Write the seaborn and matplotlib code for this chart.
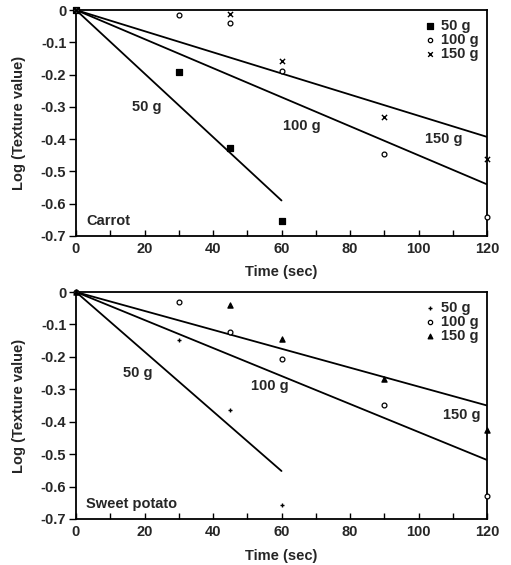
import numpy as np
import pandas as pd
import matplotlib
matplotlib.use("Agg")
import matplotlib.pyplot as plt
import seaborn as sns

sns.set_theme(style="white")
plt.rcParams["font.family"] = ["Liberation Sans", "DejaVu Sans"]

# ---- data -------------------------------------------------------------
loads = ["50 g", "100 g", "150 g"]

# Carrot: measured log(texture) vs. time
carrot_t = {
    "50 g": [0, 30, 45, 60],
    "100 g": [0, 30, 45, 60, 90, 120],
    "150 g": [0, 45, 60, 90, 120],
}
carrot_v = {
    "50 g": [0.0, -0.191, -0.426, -0.655],
    "100 g": [0.0, -0.015, -0.040, -0.188, -0.447, -0.640],
    "150 g": [0.0, -0.012, -0.159, -0.332, -0.462],
}
# fitted first-order lines (through origin): end time and end value
carrot_fit_t = {"50 g": 60, "100 g": 120, "150 g": 120}
carrot_fit_v = {"50 g": -0.590, "100 g": -0.540, "150 g": -0.393}

# Sweet potato
sweet_t = {
    "50 g": [0, 30, 45, 60],
    "100 g": [0, 30, 45, 60, 90, 120],
    "150 g": [0, 45, 60, 90, 120],
}
sweet_v = {
    "50 g": [0.0, -0.148, -0.363, -0.656],
    "100 g": [0.0, -0.032, -0.123, -0.206, -0.349, -0.628],
    "150 g": [0.0, -0.039, -0.144, -0.267, -0.425],
}
sweet_fit_t = {"50 g": 60, "100 g": 120, "150 g": 120}
sweet_fit_v = {"50 g": -0.552, "100 g": -0.518, "150 g": -0.350}

x_ticks = [0, 20, 40, 60, 80, 100, 120]
y_ticks = [0, -0.1, -0.2, -0.3, -0.4, -0.5, -0.6, -0.7]

# ---- figure -----------------------------------------------------------
fig = plt.figure(figsize=(5.11, 5.65), dpi=100)
W, H = 511, 565
ax1 = fig.add_axes([76 / W, 1 - 236 / H, (487 - 76) / W, (236 - 10) / H])
ax2 = fig.add_axes([76 / W, 1 - 519 / H, (487 - 76) / W, (519 - 292) / H])

FS = 10.5


def frame(df_pts, df_fit, ax, markers, sizes, fills, labels, name):
    for ld in loads:
        sub = df_fit[df_fit["load"] == ld]
        sns.lineplot(data=sub, x="t", y="v", ax=ax, color="black",
                     linewidth=1.3, legend=False)
    for ld in loads:
        sub = df_pts[df_pts["load"] == ld]
        if markers[ld] in ("x", "+"):
            kw = dict(color="black", linewidth=1.0)
        elif fills[ld]:
            kw = dict(color="black", edgecolor="black", linewidth=0.9)
        else:
            kw = dict(facecolor="white", edgecolor="black", linewidth=0.9)
        sns.scatterplot(data=sub, x="t", y="v", ax=ax, marker=markers[ld],
                        s=sizes[ld], label=ld, zorder=3, clip_on=False, **kw)
    ax.set_xlim(0, 120)
    ax.set_ylim(-0.7, 0)
    ax.set_xticks(x_ticks)
    ax.set_xticklabels([str(v) for v in x_ticks], fontsize=FS, fontweight="bold")
    ax.set_xticks(np.arange(10, 120, 20), minor=True)
    ax.set_yticks(y_ticks)
    ax.set_yticklabels(["0"] + [f"{v:.1f}" for v in y_ticks[1:]],
                       fontsize=FS, fontweight="bold")
    ax.tick_params(axis="x", which="both", direction="in", length=4,
                   width=1.0, pad=4, bottom=True, color="black")
    ax.tick_params(axis="y", direction="out", length=5, width=1.0, pad=2,
                   left=True, color="black")
    for s in ax.spines.values():
        s.set_visible(True)
        s.set_color("black")
        s.set_linewidth(1.3)
    ax.set_xlabel("Time (sec)", fontsize=FS, fontweight="bold")
    ax.xaxis.set_label_coords(0.5, -0.13)
    ax.set_ylabel("Log (Texture value)", fontsize=FS, fontweight="bold")
    ax.yaxis.set_label_coords(-0.122, 0.5)
    for (tx, ty, txt) in labels:
        ax.text(tx, ty, txt, fontsize=FS, fontweight="bold", ha="center",
                va="center")
    ax.text(3, -0.655, name, fontsize=FS, fontweight="bold", ha="left",
            va="center")
    leg = ax.legend(loc="upper right", frameon=False, fontsize=FS,
                    handletextpad=0.1, labelspacing=0.0, borderaxespad=0.2,
                    markerscale=0.9, handlelength=1.2)
    for t in leg.get_texts():
        t.set_fontweight("bold")


def to_frames(tt, vv, ft, fv):
    pts = pd.concat([pd.DataFrame({"t": tt[ld], "v": vv[ld], "load": ld})
                     for ld in loads], ignore_index=True)
    fit = pd.concat([pd.DataFrame({"t": [0, ft[ld]], "v": [0.0, fv[ld]],
                                   "load": ld}) for ld in loads],
                    ignore_index=True)
    return pts, fit


p1, f1 = to_frames(carrot_t, carrot_v, carrot_fit_t, carrot_fit_v)
frame(p1, f1, ax1,
      markers={"50 g": "s", "100 g": "o", "150 g": "x"},
      sizes={"50 g": 18, "100 g": 12, "150 g": 14},
      fills={"50 g": True, "100 g": False, "150 g": True},
      labels=[(20.6, -0.30, "50 g"), (66, -0.36, "100 g"),
              (107.5, -0.40, "150 g")],
      name="Carrot")

p2, f2 = to_frames(sweet_t, sweet_v, sweet_fit_t, sweet_fit_v)
frame(p2, f2, ax2,
      markers={"50 g": "+", "100 g": "o", "150 g": "^"},
      sizes={"50 g": 12, "100 g": 12, "150 g": 14},
      fills={"50 g": True, "100 g": False, "150 g": True},
      labels=[(18, -0.25, "50 g"), (56.6, -0.29, "100 g"),
              (112.7, -0.38, "150 g")],
      name="Sweet potato")

fig.savefig("out.png", dpi=100)
